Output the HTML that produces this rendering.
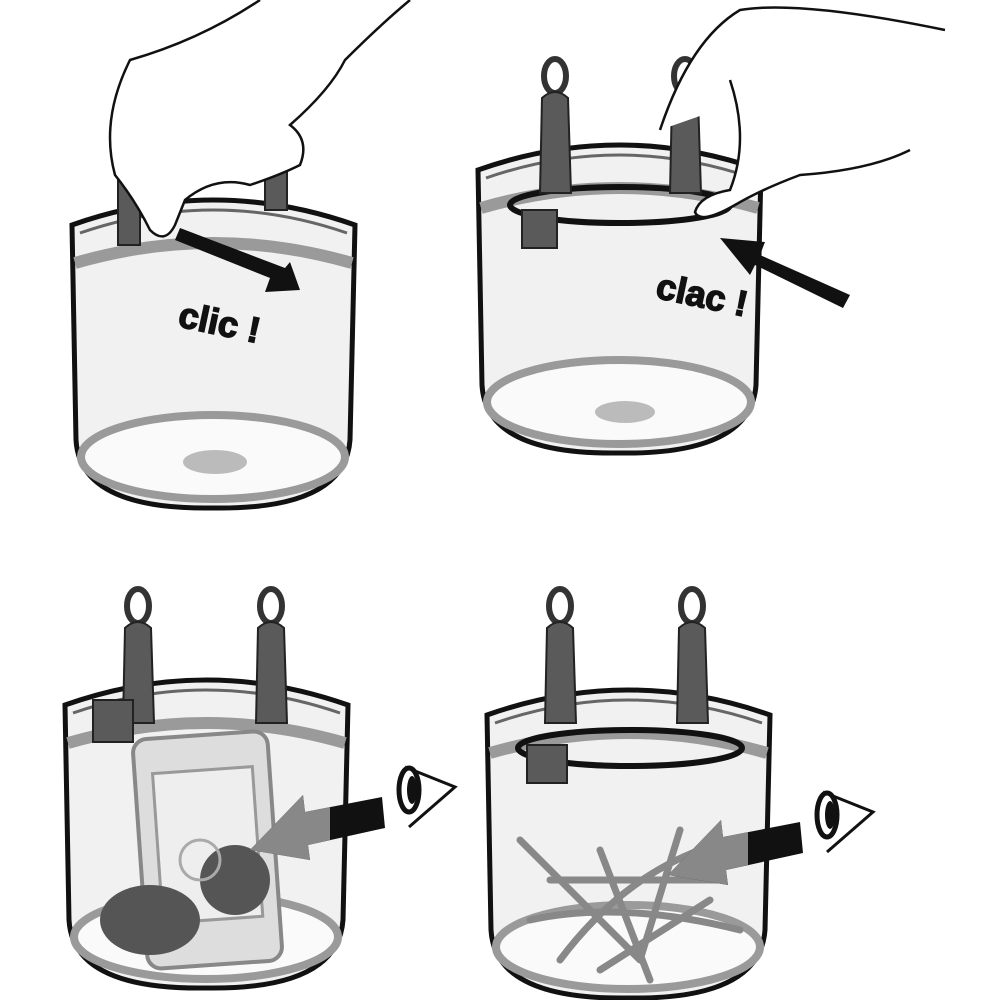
<!DOCTYPE html>
<html><head><style>html,body{margin:0;padding:0;background:#fff}svg{display:block}</style></head>
<body>
<svg width="1000" height="1000" viewBox="0 0 1000 1000" xmlns="http://www.w3.org/2000/svg">
<defs>
<g id="jar">
  <path d="M0,30 Q141,-20 283,30 L278,245 Q273,315 141,313 Q8,315 4,245 Z" fill="#f1f1f2" stroke="#111" stroke-width="5"/>
  <ellipse cx="141" cy="262" rx="132" ry="42" fill="#fafafa" stroke="#9a9a9a" stroke-width="8"/>
  <path d="M3,68 Q141,28 280,68" fill="none" stroke="#9a9a9a" stroke-width="12"/>
  <path d="M8,38 Q141,-8 275,38" fill="none" stroke="#666" stroke-width="3"/>
</g>
<g id="clip">
  <ellipse cx="15" cy="18" rx="11" ry="17" fill="none" stroke="#333" stroke-width="6"/>
  <path d="M2,40 Q15,28 28,40 L31,135 L0,135 Z" fill="#5a5a5a" stroke="#222" stroke-width="2"/>
</g>
<g id="eye">
  <ellipse cx="12" cy="25" rx="10" ry="22" fill="#fff" stroke="#111" stroke-width="5"/>
  <ellipse cx="15" cy="25" rx="5" ry="14" fill="#111"/>
  <path d="M8,2 L58,22 L12,62" fill="none" stroke="#111" stroke-width="3"/>
</g>
</defs>

<!-- Panel 1 -->
<use href="#jar" x="72" y="195"/>
<rect x="118" y="150" width="22" height="95" fill="#5a5a5a" stroke="#222" stroke-width="2"/>
<rect x="265" y="170" width="22" height="40" fill="#5a5a5a" stroke="#222" stroke-width="2"/>
<ellipse cx="215" cy="462" rx="32" ry="12" fill="#bbb"/>
<path d="M260,0 Q200,40 130,60 Q100,120 115,175 Q135,200 150,230 Q165,245 175,225 L185,200 Q215,175 250,185 Q280,175 300,165 Q310,140 290,125 Q330,90 345,60 Q380,25 410,0" fill="#fff" stroke="#111" stroke-width="2.5"/>
<path d="M175,240 L270,278 L265,292 L300,290 L290,262 L285,268 L180,228 Z" fill="#111"/>
<text x="178" y="334" transform="rotate(12 215 325)" font-family="Liberation Sans,sans-serif" font-weight="bold" font-size="36" fill="#111" stroke="#111" stroke-width="1.5">clic !</text>

<!-- Panel 2 -->
<use href="#jar" x="478" y="140"/>
<ellipse cx="620" cy="205" rx="110" ry="18" fill="none" stroke="#111" stroke-width="6"/>
<use href="#clip" x="540" y="58"/>
<use href="#clip" x="670" y="58"/>
<rect x="522" y="210" width="35" height="38" fill="#5a5a5a" stroke="#222" stroke-width="2"/>
<ellipse cx="625" cy="412" rx="30" ry="11" fill="#bbb"/>
<path d="M660,130 Q690,40 740,10 Q800,0 945,30 M910,150 Q870,170 800,175 Q760,190 735,205 Q700,225 695,212 Q700,195 730,190 Q750,140 730,80" fill="#fff" stroke="#111" stroke-width="2.5"/>
<path d="M850,295 L760,255 L765,242 L720,238 L750,275 L755,265 L843,308 Z" fill="#111"/>
<text x="655" y="307" transform="rotate(12 700 300)" font-family="Liberation Sans,sans-serif" font-weight="bold" font-size="36" fill="#111" stroke="#111" stroke-width="1.5">clac !</text>

<!-- Panel 3 -->
<use href="#jar" x="65" y="675"/>
<use href="#clip" x="123" y="588"/>
<use href="#clip" x="256" y="588"/>
<rect x="93" y="700" width="40" height="42" fill="#5a5a5a" stroke="#222" stroke-width="2"/>
<rect x="140" y="735" width="135" height="230" rx="14" transform="rotate(-4 207 850)" fill="#ddd" stroke="#888" stroke-width="4"/>
<rect x="158" y="770" width="100" height="150" transform="rotate(-4 207 850)" fill="#eee" stroke="#999" stroke-width="3"/>
<ellipse cx="150" cy="920" rx="50" ry="35" fill="#555"/>
<ellipse cx="235" cy="880" rx="35" ry="35" fill="#555"/>
<circle cx="200" cy="860" r="20" fill="none" stroke="#aaa" stroke-width="3"/>
<path d="M382,797 L305,812 L303,795 L250,850 L310,860 L308,845 L385,828 Z" fill="#111"/>
<path d="M330,807 L305,812 L303,795 L250,850 L310,860 L308,845 L330,840 Z" fill="#888"/>
<use href="#eye" x="397" y="765"/>

<!-- Panel 4 -->
<use href="#jar" x="487" y="685"/>
<ellipse cx="630" cy="748" rx="112" ry="18" fill="none" stroke="#111" stroke-width="6"/>
<use href="#clip" x="545" y="588"/>
<use href="#clip" x="677" y="588"/>
<rect x="527" y="745" width="40" height="38" fill="#5a5a5a" stroke="#222" stroke-width="2"/>
<g stroke="#888" stroke-width="7" fill="none" stroke-linecap="round">
<path d="M520,840 Q580,900 640,960 M560,960 Q620,880 700,850 M530,920 Q620,900 740,930 M600,850 L650,980 M680,830 L640,960 M710,900 L600,970 M550,880 L720,880"/>
</g>
<path d="M800,822 L723,837 L721,820 L668,875 L728,885 L726,870 L803,853 Z" fill="#111"/>
<path d="M748,832 L723,837 L721,820 L668,875 L728,885 L726,870 L748,865 Z" fill="#888"/>
<use href="#eye" x="815" y="790"/>
</svg>
</body></html>
